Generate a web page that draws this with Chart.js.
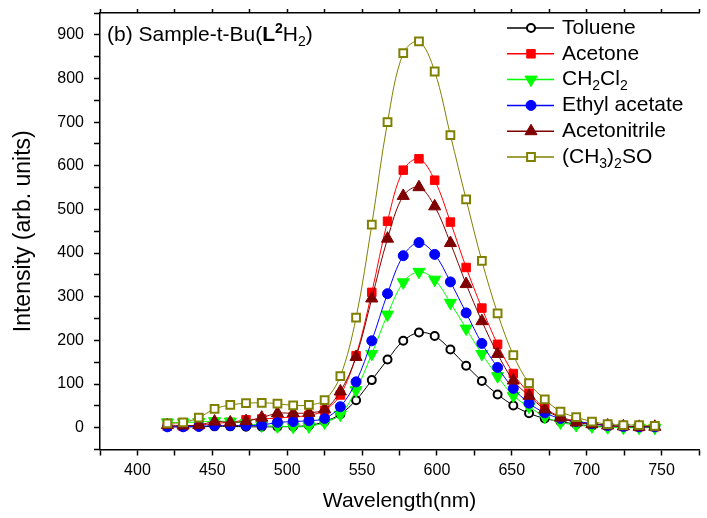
<!DOCTYPE html>
<html>
<head>
<meta charset="utf-8">
<script src="https://cdn.jsdelivr.net/npm/chart.js@4"></script>
<style>
  body { margin: 0; background: #fff; }
  canvas { display: block; }
</style>
</head>
<body>
<canvas id="plot" width="707" height="518"></canvas>
<script>
// ===== DATA =====
const wavelengths = [420, 430.5, 441, 451.5, 462, 472.5, 483, 493.5, 504, 514.5, 525, 535.5,
    546, 556.5, 567, 577.5, 588, 598.5, 609, 619.5, 630, 640.5, 651, 661.5,
    672, 682.5, 693, 703.5, 714, 724.5, 735, 745.5];

const toluene = [2, 2, 2, 3, 3, 2, 2, 2, 3, 5, 14, 31, 63, 109, 156, 199, 218, 210, 179, 142,
    107, 76, 51, 33, 21, 14, 8, 4, 2, 1, 1, 1];
const acetone = [3, 3, 5, 10, 12, 18, 20, 22, 25, 28, 40, 75, 165, 310, 473, 590, 616, 567, 471, 367,
    274, 191, 124, 79, 45, 25, 15, 10, 5, 3, 2, 2];
const ch2cl2 = [12, 12, 13, 15, 14, 10, 5, 3, 2, 3, 12, 30, 86, 169, 259, 333, 357, 339, 286, 227,
    169, 118, 73, 48, 25, 12, 6, 3, 1, 0, 0, 0];
const ethylAcetate = [2, 2, 3, 5, 5, 5, 6, 12, 14, 16, 21, 48, 105, 199, 307, 394, 424, 397, 334, 263,
    193, 138, 90, 56, 34, 21, 14, 9, 5, 3, 2, 2];
const acetonitrile = [6, 5, 6, 14, 12, 15, 23, 33, 33, 34, 42, 83, 162, 296, 433, 531, 551, 507, 423, 329,
    244, 169, 108, 73, 42, 23, 12, 8, 5, 3, 2, 2];
const dmso = [10, 12, 23, 43, 52, 56, 57, 55, 51, 52, 63, 118, 252, 465, 700, 858, 885, 816, 670, 523,
    382, 262, 166, 102, 65, 37, 24, 14, 8, 6, 6, 4];

const xTicks = [400, 450, 500, 550, 600, 650, 700, 750];
const yTicks = [0, 100, 200, 300, 400, 500, 600, 700, 800, 900];

const FONT = "'Liberation Sans', Arial, sans-serif";

// label parts: [text, "sub"/"sup"/"", bold]
const series = [
    { parts: [["Toluene", ""]], values: toluene, color: "#000000", fill: "#ffffff",
      style: "circle", radius: 4, border: 2, rotation: 0 },
    { parts: [["Acetone", ""]], values: acetone, color: "#ff0000", fill: "#ff0000",
      style: "rect", radius: 6, border: 1, rotation: 0 },
    { parts: [["CH", ""], ["2", "sub"], ["Cl", ""], ["2", "sub"]], values: ch2cl2, color: "#00ff00", fill: "#00ff00",
      style: "triangle", radius: 7, border: 1, rotation: 180 },
    { parts: [["Ethyl acetate", ""]], values: ethylAcetate, color: "#0000ff", fill: "#0000ff",
      style: "circle", radius: 5, border: 1, rotation: 0 },
    { parts: [["Acetonitrile", ""]], values: acetonitrile, color: "#800000", fill: "#800000",
      style: "triangle", radius: 7, border: 1, rotation: 0 },
    { parts: [["(CH", ""], ["3", "sub"], [")", ""], ["2", "sub"], ["SO", ""]], values: dmso, color: "#808000", fill: "#ffffff",
      style: "rect", radius: 5.5, border: 2, rotation: 0 }
];

// ===== DRAW MIXED TEXT (sub / superscripts) =====
function drawParts(ctx, parts, x, y, size) {
    ctx.textBaseline = "middle";
    ctx.textAlign = "left";
    parts.forEach(p => {
        const small = p[1] !== "";
        const fs = small ? Math.round(size * 0.65) : size;
        ctx.font = (p[2] ? "bold " : "") + fs + "px " + FONT;
        let dy = 0;
        if (p[1] === "sub") dy = size * 0.33;
        if (p[1] === "sup") dy = -size * 0.3;
        ctx.fillText(p[0], x, y + dy);
        x += ctx.measureText(p[0]).width;
    });
}

// ===== LEGEND + LABEL PLUGIN =====
const overlayPlugin = {
    id: "overlay",
    afterDraw(chart) {
        const ctx = chart.ctx;
        ctx.save();
        ctx.fillStyle = "#000";
        drawParts(ctx, [["(b) Sample-t-Bu(", ""], ["L", "", true], ["2", "sup", true], ["H", ""], ["2", "sub"], [")", ""]], 107, 35, 21);

        series.forEach((s, i) => {
            const y = 28 + i * 25.8;
            ctx.strokeStyle = s.color;
            ctx.lineWidth = 1.5;
            ctx.beginPath();
            ctx.moveTo(507, y);
            ctx.lineTo(554, y);
            ctx.stroke();
            ctx.fillStyle = s.fill;
            ctx.lineWidth = s.border;
            Chart.helpers.drawPoint(ctx, {
                pointStyle: s.style, radius: s.radius, rotation: s.rotation, borderWidth: s.border
            }, 531, y);
            ctx.fillStyle = "#000";
            drawParts(ctx, s.parts, 562, y, 21);
        });
        ctx.restore();
    }
};

// ===== CHART =====
const ctx = document.getElementById("plot").getContext("2d");

const datasets = series.map((s, i) => ({
    label: s.parts.map(p => p[0]).join(""),
    data: wavelengths.map((w, k) => ({ x: w, y: s.values[k] })),
    borderColor: s.color,
    borderWidth: 1,
    backgroundColor: s.fill,
    pointStyle: s.style,
    pointRadius: s.radius,
    pointRotation: s.rotation,
    pointBorderWidth: s.border,
    pointBorderColor: s.color,
    pointBackgroundColor: s.fill,
    tension: 0.35,
    order: series.length - i
}));

const tickFont = { family: FONT, size: 16 };

// fixed box sizes so the plot area lands where the reference has it
function fixBox(size, horizontal) {
    return s => {
        if (horizontal) s.height = size; else s.width = size;
        s.paddingTop = 0; s.paddingBottom = 0; s.paddingLeft = 0; s.paddingRight = 0;
    };
}

function everyQuarter(lo, hi, step) {
    return s => {
        s.ticks = [];
        for (let v = lo; v <= hi; v += step) s.ticks.push({ value: v });
    };
}

new Chart(ctx, {
    type: "line",
    data: { datasets },
    options: {
        responsive: false,
        animation: false,
        layout: { padding: 0 },
        plugins: { legend: { display: false }, tooltip: { enabled: false } },
        scales: {
            x: {
                type: "linear",
                position: "bottom",
                min: 375,
                max: 775,
                afterFit: fixBox(68.5, true),
                afterBuildTicks: everyQuarter(375, 775, 25),
                ticks: {
                    color: "#000",
                    font: tickFont,
                    padding: 5,
                    maxRotation: 0,
                    autoSkip: false,
                    callback: v => (xTicks.includes(v) ? v : "")
                },
                grid: { drawOnChartArea: false, tickLength: 6, color: "#000", tickWidth: 1.5 },
                border: { color: "#000", width: 1.5 },
                title: { display: true, text: "Wavelength(nm)", color: "#000",
                         font: { family: FONT, size: 21 }, padding: { top: 8 } }
            },
            x2: {
                type: "linear",
                position: "top",
                min: 375,
                max: 775,
                afterFit: fixBox(13, true),
                afterBuildTicks: everyQuarter(375, 775, 25),
                ticks: { display: false },
                grid: { drawOnChartArea: false, tickLength: 4, color: "#000", tickWidth: 1.5 },
                border: { color: "#000", width: 1.5 }
            },
            y: {
                min: -50,
                max: 950,
                afterFit: fixBox(100, false),
                afterBuildTicks: everyQuarter(-50, 950, 50),
                ticks: {
                    color: "#000",
                    font: tickFont,
                    padding: 10,
                    autoSkip: false,
                    callback: v => (yTicks.includes(v) ? v : "")
                },
                grid: { drawOnChartArea: false, tickLength: 6, color: "#000", tickWidth: 1.5 },
                border: { color: "#000", width: 1.5 },
                title: { display: true, text: "Intensity (arb. units)", color: "#000",
                         font: { family: FONT, size: 23 }, padding: { top: 10, bottom: 0 } }
            }
        }
    },
    plugins: [overlayPlugin]
});
</script>
</body>
</html>
